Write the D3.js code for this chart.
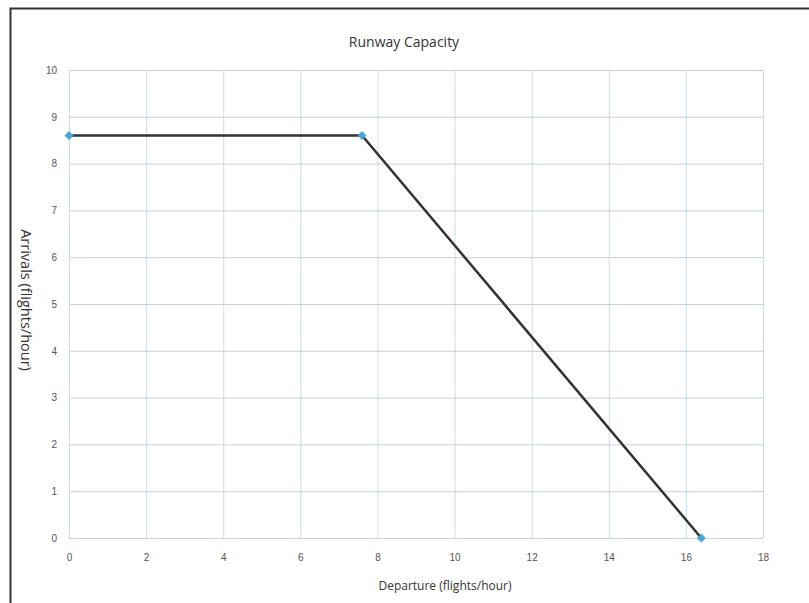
<!DOCTYPE html>
<html>
<head>
<meta charset="utf-8">
<script src="https://cdn.jsdelivr.net/npm/d3@7"></script>
<style>
  body { margin: 0; background: #fff; }
  svg { font-family: "Open Sans", "DejaVu Sans", sans-serif; }
</style>
</head>
<body>
<svg width="809" height="603"></svg>
<script>
// data
const departures = [0, 7.6, 16.4];
const arrivals = [8.6, 8.6, 0];
const xTicks = [0, 2, 4, 6, 8, 10, 12, 14, 16, 18];
const yTicks = [0, 1, 2, 3, 4, 5, 6, 7, 8, 9, 10];

let svg = d3.select("svg");

// outer frame
svg.append("rect")
    .attr("x", 10.5)
    .attr("y", 8.5)
    .attr("width", 820)
    .attr("height", 620)
    .attr("fill", "#fff")
    .attr("stroke", "#333")
    .attr("stroke-width", 2);

let xScale = d3.scaleLinear().domain([0, 18]).range([69, 763]);
let yScale = d3.scaleLinear().domain([0, 10]).range([538, 70]);

// gridlines
let xGrid = d3.axisBottom(xScale).tickValues(xTicks).tickSize(-(538 - 70)).tickFormat("");
svg.append("g")
    .attr("transform", "translate(0,538)")
    .call(xGrid)
    .call(g => g.select(".domain").remove())
    .call(g => g.selectAll("line").attr("stroke", "#cfdbe2"));

let yGrid = d3.axisLeft(yScale).tickValues(yTicks).tickSize(-(763 - 69)).tickFormat("");
svg.append("g")
    .attr("transform", "translate(69,0)")
    .call(yGrid)
    .call(g => g.select(".domain").remove())
    .call(g => g.selectAll("line").attr("stroke", "#c4d3dc"));

// axes labels
let xAxis = d3.axisBottom(xScale).tickValues(xTicks).tickSize(0).tickPadding(16);
svg.append("g")
    .attr("transform", "translate(0,538)")
    .call(xAxis)
    .call(g => g.select(".domain").remove())
    .call(g => g.selectAll("text").attr("fill", "#555").attr("font-size", 10).attr("font-family", "inherit"));

let yAxis = d3.axisLeft(yScale).tickValues(yTicks).tickSize(0).tickPadding(12);
svg.append("g")
    .attr("transform", "translate(69,0)")
    .call(yAxis)
    .call(g => g.select(".domain").remove())
    .call(g => g.selectAll("text").attr("fill", "#555").attr("font-size", 10).attr("font-family", "inherit"));

// line
let pts = departures.map((d, i) => [d, arrivals[i]]);
let line = d3.line().x(d => xScale(d[0])).y(d => yScale(d[1]));
svg.append("path")
    .datum(pts)
    .attr("d", line)
    .attr("fill", "none")
    .attr("stroke", "#333")
    .attr("stroke-width", 2.5);

// square markers turned 45 degrees
svg.selectAll(".pt")
    .data(pts)
    .enter()
    .append("path")
    .attr("class", "pt")
    .attr("d", d3.symbol(d3.symbolSquare, 40))
    .attr("transform", d => "translate(" + xScale(d[0]) + "," + yScale(d[1]) + ") rotate(45)")
    .attr("fill", "#4aa6d8");

// titles
svg.append("text")
    .attr("x", 404)
    .attr("y", 47)
    .attr("text-anchor", "middle")
    .attr("font-size", 14)
    .attr("fill", "#333")
    .text("Runway Capacity");

svg.append("text")
    .attr("x", 445)
    .attr("y", 590)
    .attr("text-anchor", "middle")
    .attr("font-size", 12)
    .attr("fill", "#333")
    .text("Departure (flights/hour)");

svg.append("text")
    .attr("transform", "translate(21,300) rotate(90)")
    .attr("text-anchor", "middle")
    .attr("font-size", 14.5)
    .attr("fill", "#333")
    .text("Arrivals (flights/hour)");
</script>
</body>
</html>
